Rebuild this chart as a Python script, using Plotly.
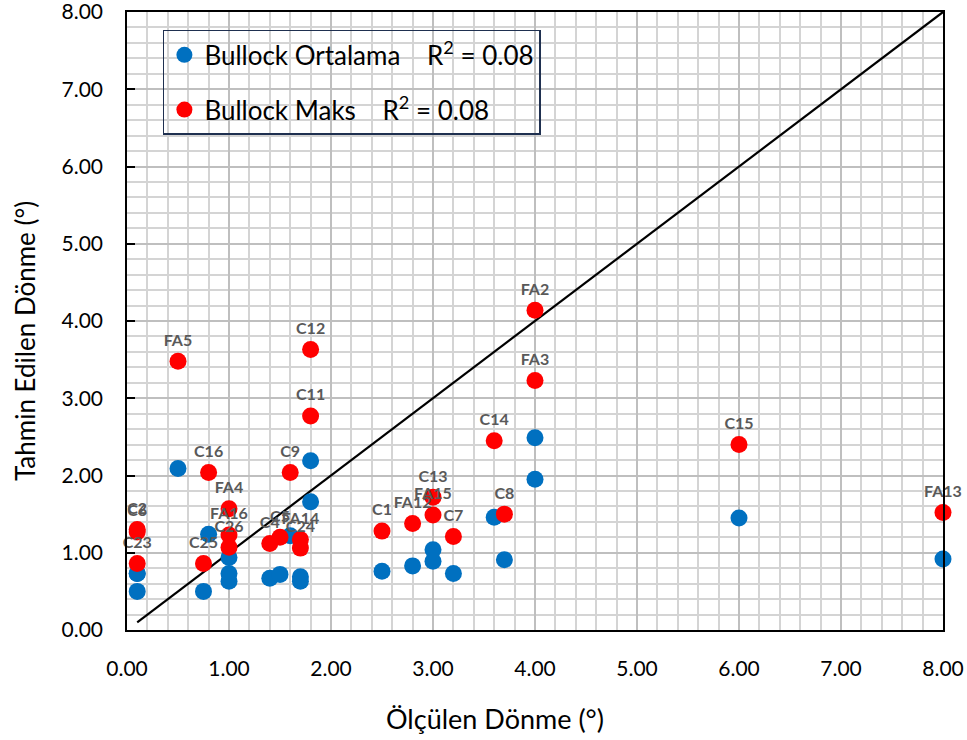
import plotly.graph_objects as go

labels = ["FA5", "C12", "C11", "C16", "C9", "FA4", "FA16", "C26", "C2", "C6",
          "C23", "C25", "C4", "C5", "FA14", "C24", "C1", "FA12", "C13", "FA15",
          "C7", "C8", "C14", "FA2", "FA3", "C15", "FA13"]
measured = [0.5, 1.8, 1.8, 0.8, 1.6, 1.0, 1.0, 1.0, 0.1, 0.1,
            0.1, 0.75, 1.4, 1.5, 1.7, 1.7, 2.5, 2.8, 3.0, 3.0,
            3.2, 3.7, 3.6, 4.0, 4.0, 6.0, 8.0]
pred_max = [3.48, 3.63, 2.77, 2.04, 2.04, 1.57, 1.23, 1.07, 1.30, 1.27,
            0.86, 0.86, 1.12, 1.20, 1.17, 1.06, 1.28, 1.38, 1.72, 1.49,
            1.21, 1.50, 2.45, 4.14, 3.23, 2.40, 1.52]
pred_avg = [2.09, 2.19, 1.66, 1.24, 1.22, 0.94, 0.73, 0.63, 0.73, 0.73,
            0.50, 0.50, 0.67, 0.72, 0.69, 0.63, 0.76, 0.83, 1.04, 0.89,
            0.73, 0.91, 1.46, 2.49, 1.95, 1.45, 0.92]
line_x = [0.1, 8.0]
line_y = [0.1, 8.0]
x_title = "Ölçülen Dönme (°)"
y_title = "Tahmin Edilen Dönme (°)"

FONT = "Lato"
sp = "\u00a0"

fig = go.Figure()
fig.add_trace(go.Scatter(x=line_x, y=line_y, mode="lines",
                         line=dict(color="black", width=2.2),
                         showlegend=False, hoverinfo="skip"))
fig.add_trace(go.Scatter(x=measured, y=pred_avg, mode="markers",
                         name="Bullock Ortalama" + sp * 4 + "R<sup>2</sup> = 0.08",
                         legendgroup="a", cliponaxis=False,
                         marker=dict(color="#0070C0", size=17)))
fig.add_trace(go.Scatter(x=measured, y=pred_max, mode="markers+text",
                         name="Bullock Maks" + sp * 4 + "R<sup>2</sup> = 0.08",
                         legendgroup="b", cliponaxis=False,
                         text=labels, textposition="top center",
                         textfont=dict(family=FONT, size=16, color="#595959", weight="bold"),
                         marker=dict(color="#FF0000", size=17)))

axis_common = dict(
    range=[0, 8], dtick=1, tickformat=".2f",
    showline=True, linecolor="black", linewidth=1.5, mirror=True,
    showgrid=True, gridcolor="#bfbfbf", gridwidth=1.5,
    zeroline=False, automargin=False, ticklabeloverflow="allow",
    tickfont=dict(family=FONT, size=21, color="black"),
    minor=dict(dtick=0.2, showgrid=True, gridcolor="#d4d4d4", gridwidth=1.5, ticks=""),
)

fig.update_xaxes(**axis_common, ticks="", ticklabelstandoff=19)
fig.update_yaxes(**axis_common, ticks="inside", ticklen=8, tickcolor="black", tickwidth=1.5,
                 ticklabelstandoff=18)

fig.add_annotation(text=x_title, xref="paper", yref="paper", x=0.451, y=-0.1424,
                   xanchor="center", yanchor="middle", showarrow=False,
                   font=dict(family=FONT, size=27, color="black"))
fig.add_annotation(text=y_title, xref="paper", yref="paper", x=-0.125, y=0.4676,
                   xanchor="center", yanchor="middle", showarrow=False, textangle=-90,
                   font=dict(family=FONT, size=26, color="black"))

fig.update_layout(
    width=967, height=740,
    margin=dict(l=127, r=24, t=12, b=110),
    plot_bgcolor="white", paper_bgcolor="white",
    font=dict(family=FONT),
    legend=dict(x=0.044, y=0.971, xanchor="left", yanchor="top",
                bgcolor="rgba(0,0,0,0)", bordercolor="#1f3050", borderwidth=1.5,
                font=dict(family=FONT, size=26, color="black"),
                tracegroupgap=18),
)

fig.write_html("out.html", config={"displayModeBar": False},
               post_script="document.body.style.margin='0px';document.body.style.overflow='hidden';")
